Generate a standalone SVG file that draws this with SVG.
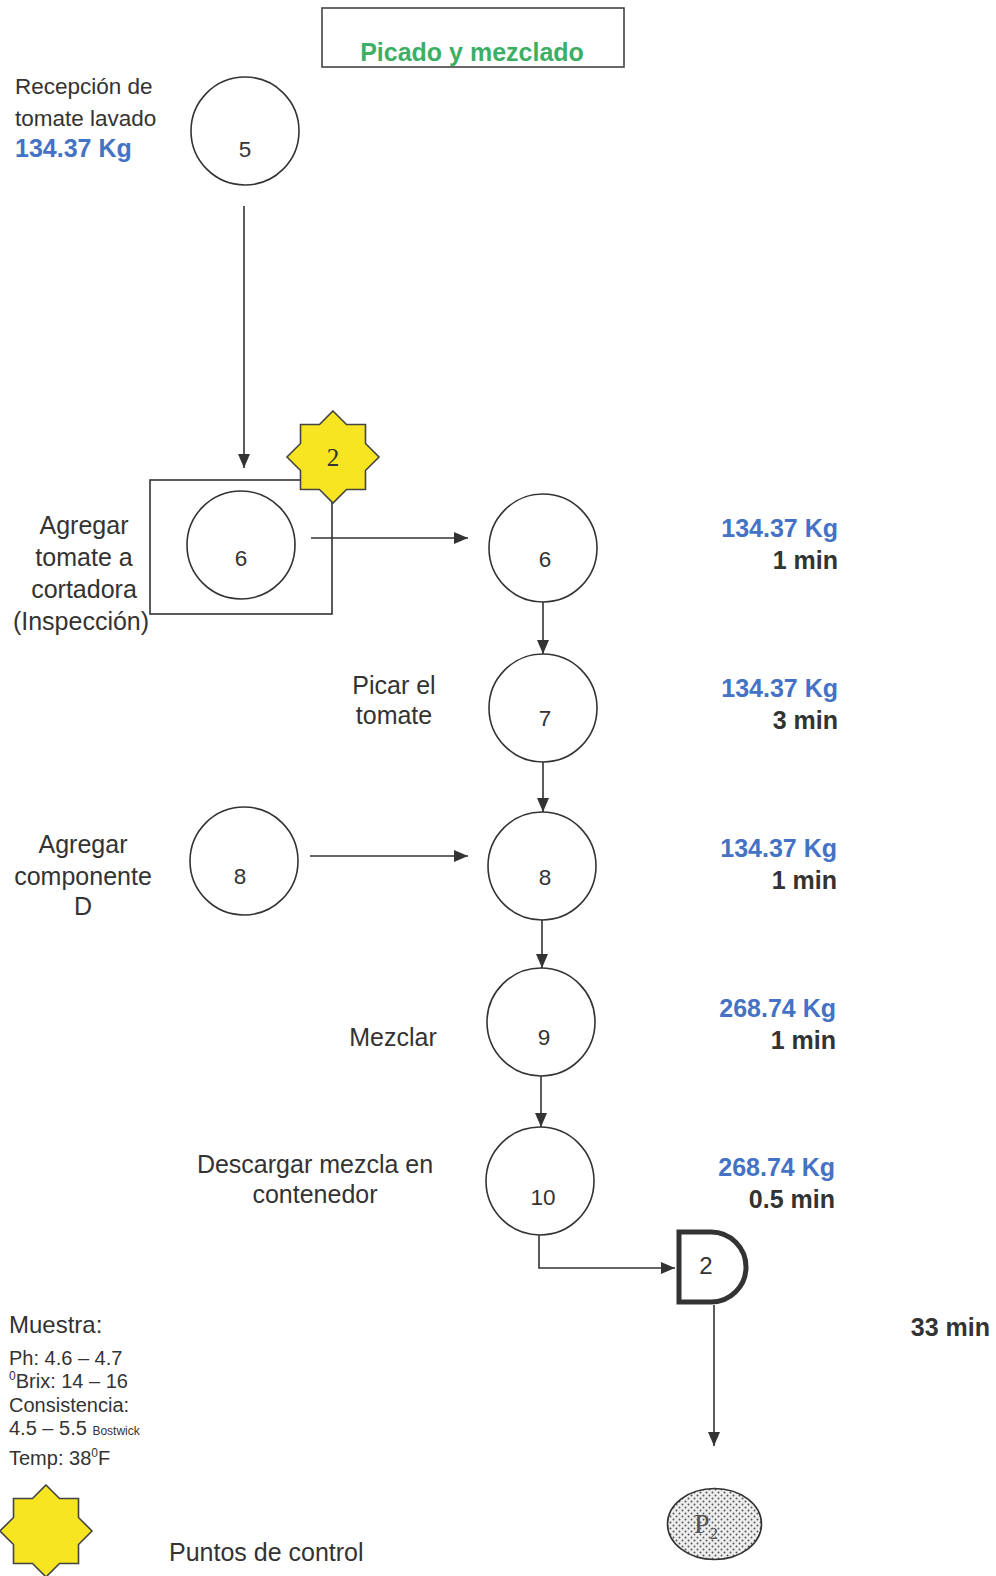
<svg xmlns="http://www.w3.org/2000/svg" width="996" height="1576" viewBox="0 0 996 1576">
  <style>
    .txt { font-family: "Liberation Sans", Arial, sans-serif; fill: #333; }
    .lbl { font-size: 22.5px; }
    .big { font-size: 25px; }
    .num { font-size: 22.5px; text-anchor: middle; }
    .kg { font-size: 25px; font-weight: bold; fill: #4472c4; }
    .min { font-size: 25px; font-weight: bold; fill: #333; }
    .node { fill: #fff; stroke: #333; stroke-width: 1.6; }
    .conn { fill: none; stroke: #333; stroke-width: 1.6; }
    .star { fill: #f6e520; stroke: #444; stroke-width: 1.6; stroke-linejoin: miter; }
    .note { font-size: 20px; }
  </style>
  <defs>
    <marker id="arrow" viewBox="0 0 14 14" refX="14" refY="7" markerWidth="14" markerHeight="14" markerUnits="userSpaceOnUse" orient="auto">
      <path d="M0,1 L14,7 L0,13 Z" fill="#333"/>
    </marker>
    <path id="octagram" d="M0,-46 L13.5,-32.5 L32.5,-32.5 L32.5,-13.5 L46,0 L32.5,13.5 L32.5,32.5 L13.5,32.5 L0,46 L-13.5,32.5 L-32.5,32.5 L-32.5,13.5 L-46,0 L-32.5,-13.5 L-32.5,-32.5 L-13.5,-32.5 Z"/>
    <pattern id="dots" width="6" height="6" patternUnits="userSpaceOnUse">
      <rect width="6" height="6" fill="#eeeeee"/>
      <circle cx="1.5" cy="1.5" r="1" fill="#555"/>
      <circle cx="4.5" cy="4.5" r="1" fill="#555"/>
    </pattern>
  </defs>

  <rect width="996" height="1576" fill="#fff"/>

  <!-- Title -->
  <g id="title">
    <rect x="322" y="8" width="302" height="59" fill="#fff" stroke="#444" stroke-width="1.6"/>
    <text x="472" y="61" text-anchor="middle" style="font-family:'Liberation Sans',Arial,sans-serif;font-size:25px;font-weight:bold;fill:#3daf64">Picado y mezclado</text>
  </g>

  <!-- Connectors -->
  <g id="connectors">
    <line class="conn" x1="244" y1="206" x2="244" y2="468" marker-end="url(#arrow)"/>
    <line class="conn" x1="311" y1="538" x2="468" y2="538" marker-end="url(#arrow)"/>
    <line class="conn" x1="543" y1="602" x2="543" y2="654" marker-end="url(#arrow)"/>
    <line class="conn" x1="543" y1="762" x2="543" y2="812" marker-end="url(#arrow)"/>
    <line class="conn" x1="310" y1="856" x2="468" y2="856" marker-end="url(#arrow)"/>
    <line class="conn" x1="542" y1="920" x2="542" y2="968" marker-end="url(#arrow)"/>
    <line class="conn" x1="541" y1="1076" x2="541" y2="1127" marker-end="url(#arrow)"/>
    <polyline class="conn" points="539,1235 539,1268 675,1268" marker-end="url(#arrow)"/>
    <line class="conn" x1="714" y1="1305" x2="714" y2="1446" marker-end="url(#arrow)"/>
  </g>

  <!-- Reception of washed tomato -->
  <g id="n5">
    <text class="txt lbl" x="15" y="94">Recepción de</text>
    <text class="txt lbl" x="15" y="126">tomate lavado</text>
    <text class="txt kg" x="15" y="157">134.37 Kg</text>
    <circle class="node" cx="245" cy="131" r="54"/>
    <text class="txt num" x="245" y="157">5</text>
  </g>

  <!-- Inspection step with control point -->
  <g id="n6-inspection">
    <rect x="150" y="480" width="182" height="134" fill="none" stroke="#333" stroke-width="1.6"/>
    <circle class="node" cx="241" cy="545" r="54"/>
    <text class="txt num" x="241" y="566">6</text>
    <text class="txt big" x="84" y="534" text-anchor="middle">Agregar</text>
    <text class="txt big" x="84" y="566" text-anchor="middle">tomate a</text>
    <text class="txt big" x="84" y="598" text-anchor="middle">cortadora</text>
    <text class="txt big" x="81" y="630" text-anchor="middle">(Inspección)</text>
  </g>
  <g id="control-point-2">
    <use href="#octagram" class="star" transform="translate(333,457)"/>
    <text x="333" y="466" text-anchor="middle" style="font-family:'Liberation Serif','Times New Roman',serif;font-size:25px;fill:#333">2</text>
  </g>

  <!-- Main column -->
  <g id="n6">
    <circle class="node" cx="543" cy="548" r="54"/>
    <text class="txt num" x="545" y="567">6</text>
    <text class="txt kg" x="838" y="537" text-anchor="end">134.37 Kg</text>
    <text class="txt min" x="838" y="569" text-anchor="end">1 min</text>
  </g>

  <g id="n7">
    <circle class="node" cx="543" cy="708" r="54"/>
    <text class="txt num" x="545" y="726">7</text>
    <text class="txt big" x="394" y="694" text-anchor="middle">Picar el</text>
    <text class="txt big" x="394" y="724" text-anchor="middle">tomate</text>
    <text class="txt kg" x="838" y="697" text-anchor="end">134.37 Kg</text>
    <text class="txt min" x="838" y="729" text-anchor="end">3 min</text>
  </g>

  <g id="n8-add">
    <circle class="node" cx="244" cy="861" r="54"/>
    <text class="txt num" x="240" y="884">8</text>
    <text class="txt big" x="83" y="853" text-anchor="middle">Agregar</text>
    <text class="txt big" x="83" y="885" text-anchor="middle">componente</text>
    <text class="txt big" x="83" y="915" text-anchor="middle">D</text>
  </g>

  <g id="n8">
    <circle class="node" cx="542" cy="866" r="54"/>
    <text class="txt num" x="545" y="885">8</text>
    <text class="txt kg" x="837" y="857" text-anchor="end">134.37 Kg</text>
    <text class="txt min" x="837" y="889" text-anchor="end">1 min</text>
  </g>

  <g id="n9">
    <circle class="node" cx="541" cy="1022" r="54"/>
    <text class="txt num" x="544" y="1045">9</text>
    <text class="txt big" x="393" y="1046" text-anchor="middle">Mezclar</text>
    <text class="txt kg" x="836" y="1017" text-anchor="end">268.74 Kg</text>
    <text class="txt min" x="836" y="1049" text-anchor="end">1 min</text>
  </g>

  <g id="n10">
    <circle class="node" cx="540" cy="1181" r="54"/>
    <text class="txt num" x="543" y="1205">10</text>
    <text class="txt big" x="315" y="1173" text-anchor="middle">Descargar mezcla en</text>
    <text class="txt big" x="315" y="1203" text-anchor="middle">contenedor</text>
    <text class="txt kg" x="835" y="1176" text-anchor="end">268.74 Kg</text>
    <text class="txt min" x="835" y="1208" text-anchor="end">0.5 min</text>
  </g>

  <!-- Storage / delay symbol -->
  <g id="d2">
    <path d="M679,1232 L711,1232 A35,35 0 0 1 711,1302 L679,1302 Z" fill="#fff" stroke="#333" stroke-width="5"/>
    <text class="txt num" x="706" y="1274" style="font-size:24px">2</text>
  </g>

  <text class="txt min" x="990" y="1336" text-anchor="end">33 min</text>

  <!-- Product P2 -->
  <g id="p2">
    <ellipse cx="714.5" cy="1524" rx="47" ry="35.5" fill="url(#dots)" stroke="#333" stroke-width="1.6"/>
    <text x="694" y="1533" style="font-family:'Liberation Serif','Times New Roman',serif;font-size:28px;fill:#555">P<tspan font-size="17" dy="6">2</tspan></text>
  </g>

  <!-- Sample specifications -->
  <g id="sample-notes">
    <text class="txt" x="9" y="1333" style="font-size:24px">Muestra:</text>
    <text class="txt note" x="9" y="1365">Ph: 4.6 – 4.7</text>
    <text class="txt note" x="9" y="1388"><tspan font-size="12" dy="-8">0</tspan><tspan dy="8">Brix: 14 – 16</tspan></text>
    <text class="txt note" x="9" y="1412">Consistencia:</text>
    <text class="txt note" x="9" y="1435">4.5 – 5.5 <tspan font-size="12">Bostwick</tspan></text>
    <text class="txt note" x="9" y="1465">Temp: 38<tspan font-size="12" dy="-8">0</tspan><tspan dy="8">F</tspan></text>
  </g>

  <!-- Legend -->
  <g id="legend">
    <use href="#octagram" class="star" transform="translate(46,1531)"/>
    <text class="txt big" x="169" y="1561">Puntos de control</text>
  </g>
</svg>
